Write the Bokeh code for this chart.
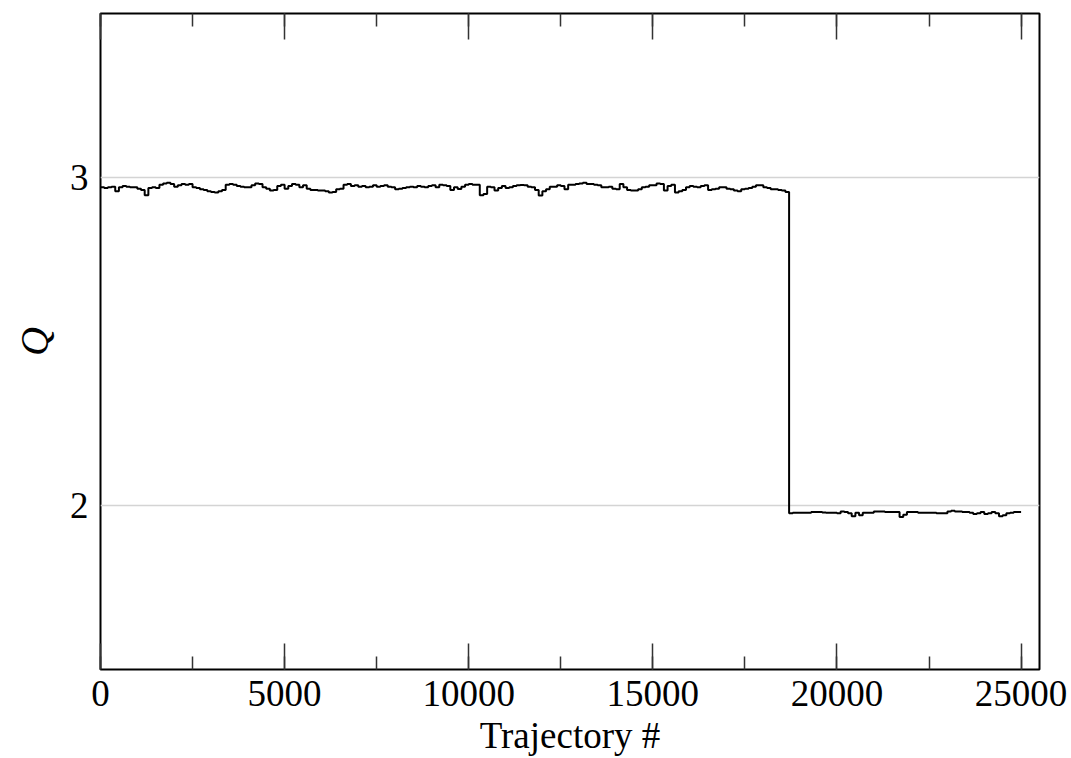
from bokeh.plotting import figure
from bokeh.models import Range1d, LinearAxis, SingleIntervalTicker, FixedTicker, CustomJSTickFormatter
from bokeh.embed import file_html
from bokeh.resources import INLINE

# Bin width of the trajectory blocks (each step = 100 trajectories)
bin_width = 100

# Q values, upper plateau (bins 0 .. 186)
q_upper = [
    2.970, 2.968, 2.970, 2.972, 2.958, 2.970, 2.974, 2.972, 2.970, 2.970,
    2.966, 2.962, 2.946, 2.968, 2.970, 2.968, 2.978, 2.982, 2.984, 2.980,
    2.972, 2.976, 2.980, 2.978, 2.980, 2.970, 2.968, 2.964, 2.962, 2.958,
    2.956, 2.954, 2.958, 2.962, 2.978, 2.980, 2.978, 2.974, 2.972, 2.970,
    2.970, 2.976, 2.982, 2.980, 2.970, 2.966, 2.960, 2.962, 2.974, 2.978,
    2.966, 2.974, 2.980, 2.978, 2.970, 2.976, 2.966, 2.962, 2.962, 2.960,
    2.960, 2.958, 2.954, 2.956, 2.964, 2.966, 2.978, 2.980, 2.974, 2.976,
    2.972, 2.974, 2.970, 2.972, 2.976, 2.972, 2.974, 2.976, 2.972, 2.970,
    2.964, 2.966, 2.968, 2.970, 2.972, 2.970, 2.974, 2.972, 2.970, 2.974,
    2.976, 2.970, 2.978, 2.976, 2.974, 2.962, 2.970, 2.965, 2.972, 2.978,
    2.980, 2.978, 2.978, 2.946, 2.950, 2.972, 2.970, 2.960, 2.968, 2.974,
    2.968, 2.970, 2.974, 2.976, 2.977, 2.976, 2.972, 2.970, 2.962, 2.945,
    2.958, 2.964, 2.972, 2.972, 2.976, 2.974, 2.964, 2.978, 2.978, 2.980,
    2.982, 2.984, 2.980, 2.980, 2.978, 2.976, 2.970, 2.970, 2.972, 2.966,
    2.964, 2.980, 2.970, 2.962, 2.960, 2.960, 2.964, 2.970, 2.972, 2.976,
    2.976, 2.982, 2.980, 2.960, 2.974, 2.978, 2.954, 2.958, 2.962, 2.970,
    2.974, 2.972, 2.970, 2.974, 2.976, 2.962, 2.964, 2.966, 2.970, 2.970,
    2.966, 2.964, 2.960, 2.958, 2.964, 2.966, 2.968, 2.972, 2.976, 2.976,
    2.970, 2.968, 2.964, 2.964, 2.962, 2.960, 2.956,
]

# Q values, lower plateau (bins 187 .. 249)
q_lower = [
    1.976, 1.978, 1.978, 1.978, 1.978, 1.978, 1.980, 1.980, 1.980, 1.979,
    1.978, 1.978, 1.978, 1.976, 1.982, 1.980, 1.976, 1.967, 1.978, 1.970,
    1.978, 1.978, 1.978, 1.982, 1.982, 1.982, 1.980, 1.980, 1.980, 1.980,
    1.965, 1.972, 1.980, 1.980, 1.980, 1.978, 1.978, 1.978, 1.978, 1.978,
    1.976, 1.976, 1.976, 1.982, 1.984, 1.982, 1.982, 1.980, 1.980, 1.978,
    1.974, 1.976, 1.980, 1.974, 1.976, 1.980, 1.976, 1.967, 1.970, 1.976,
    1.978, 1.980, 1.980,
]

x_ticks_major = 5000
y_tick_values = [2, 3]

q_values = q_upper + q_lower
traj_edges = [i * bin_width for i in range(len(q_values) + 1)]
step_x = traj_edges
step_y = q_values + [q_values[-1]]

p = figure(
    width=1071, height=758,
    output_backend="svg", toolbar_location=None,
    x_range=Range1d(0, 25500), y_range=Range1d(1.5, 3.5),
    x_axis_location=None, y_axis_location=None,
    min_border_left=100, min_border_right=32,
    min_border_top=13, min_border_bottom=89,
)
p.background_fill_color = "white"
p.border_fill_color = "white"
p.outline_line_color = "black"
p.outline_line_width = 2

FONT = "Liberation Serif"

# bottom axis
xb = LinearAxis(ticker=SingleIntervalTicker(interval=x_ticks_major, num_minor_ticks=2))
xb.axis_line_color = None
xb.major_tick_in = 26
xb.major_tick_out = 0
xb.minor_tick_in = 13
xb.minor_tick_out = 0
xb.major_tick_line_color = "#333333"
xb.minor_tick_line_color = "#333333"
xb.major_tick_line_width = 1.5
xb.minor_tick_line_width = 1.5
xb.major_label_text_font = FONT
xb.major_label_text_font_size = "37px"
xb.major_label_text_color = "black"
xb.major_label_standoff = 11
xb.axis_label = "Trajectory #"
xb.axis_label_text_font = FONT
xb.axis_label_text_font_size = "37px"
xb.axis_label_text_font_style = "normal"
xb.axis_label_text_color = "black"
xb.axis_label_standoff = 6
p.add_layout(xb, "below")

# top axis (ticks only, no labels)
xt = LinearAxis(ticker=SingleIntervalTicker(interval=x_ticks_major, num_minor_ticks=2),
                formatter=CustomJSTickFormatter(code="return ''"))
xt.axis_line_color = None
xt.major_tick_in = 26
xt.major_tick_out = 0
xt.minor_tick_in = 13
xt.minor_tick_out = 0
xt.major_tick_line_color = "#333333"
xt.minor_tick_line_color = "#333333"
xt.major_tick_line_width = 1.5
xt.minor_tick_line_width = 1.5
xt.major_label_standoff = 0
p.add_layout(xt, "above")

# left axis
yl = LinearAxis(ticker=FixedTicker(ticks=y_tick_values))
yl.axis_line_color = None
yl.major_tick_line_color = None
yl.minor_tick_line_color = None
yl.major_tick_in = 0
yl.major_tick_out = 0
yl.major_label_text_font = FONT
yl.major_label_text_font_size = "37px"
yl.major_label_text_color = "black"
yl.major_label_standoff = 12
yl.axis_label = "Q"
yl.axis_label_text_font = FONT
yl.axis_label_text_font_size = "40px"
yl.axis_label_text_font_style = "italic"
yl.axis_label_text_color = "black"
yl.axis_label_standoff = 10
p.add_layout(yl, "left")

p.xgrid.visible = False
p.ygrid.ticker = FixedTicker(ticks=y_tick_values)
p.ygrid.grid_line_color = "#d4d4d4"
p.ygrid.grid_line_width = 1.5

p.step(step_x, step_y, mode="after", line_color="black", line_width=2)

open("out.html", "w").write(file_html(p, INLINE))
